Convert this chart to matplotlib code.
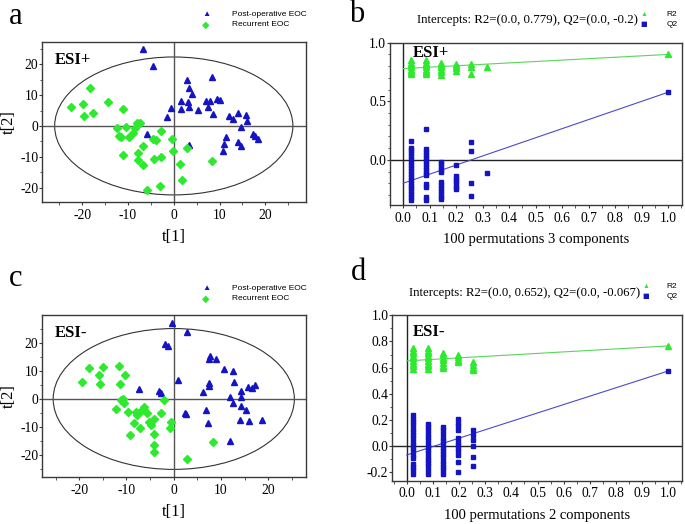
import matplotlib
matplotlib.use("Agg")
import matplotlib.pyplot as plt
from matplotlib.patches import Ellipse
from matplotlib.ticker import MultipleLocator, FormatStrFormatter

plt.rcParams['font.family'] = ['Liberation Serif', 'DejaVu Serif']
plt.rcParams['axes.unicode_minus'] = False

# ---- data: score plots (t[1], t[2]) ----
a_post_t1 = [-6.8, -4.5, 2.8, 3.4, 4.0, 8.4, 1.5, 3.0, -0.7, 1.5, 3.3, 5.2, 7.1, 7.9, 7.4, 8.6, 9.5,
             10.2, -1.5, 12.0, 12.9, 14.1, 15.7, 15.9, 14.6, -5.9, 3.3, 11.3, 10.9, 10.7, 14.0, 14.6,
             17.4, 17.7, 18.3]
a_post_t2 = [24.9, 19.4, 14.8, 12.3, 10.4, 15.9, 8.2, 7.8, 5.8, 5.5, 6.3, 5.1, 8.1, 8.0, 6.3, 4.0, 8.8,
             8.5, 2.8, 3.2, 2.2, 4.3, 3.4, 1.6, -0.3, -2.6, -6.3, -3.5, -5.9, -8.0, -5.1, -6.4,
             -2.5, -3.2, -4.3]
a_rec_t1 = [-22.4, -19.8, -18.3, -19.7, -17.6, -14.3, -11.1, -12.4, -10.4, -11.9, -11.6, -9.7, -8.8,
            -8.4, -8.0, -7.3, -11.1, -7.8, -6.8, -7.7, -6.8, -4.6, -3.9, -2.7, -0.4, -0.1, -4.3, -2.7,
            1.4, 2.8, 1.8, -3.0, -5.9, 8.4]
a_rec_t2 = [6.2, 7.1, 12.3, 3.1, 4.2, 7.8, 5.5, -0.8, -0.3, -3.4, -3.7, -3.7, -2.2, -0.6, 0.9, 0.9,
            -9.5, -8.8, -6.6, -11.0, -12.8, -4.3, -4.6, -1.8, -4.2, -8.1, -10.7, -10.2, -12.4, -7.0,
            -17.4, -19.4, -20.8, -11.2]

c_post_t1 = [-0.3, 2.7, -1.9, -1.3, 7.5, 7.6, 8.9, 10.6, 12.6, 12.7, 7.5, 7.5, 0.8, -7.4, -3.2, -2.7,
             6.2, 11.9, 12.5, 14.2, 15.8, 16.5, 17.2, 14.3, 14.2, 15.3, 14.1, 16.0, 18.7, 2.4, 2.6,
             6.9, 7.3, 11.8]
c_post_t2 = [27.0, 23.7, 19.6, 18.8, 14.3, 15.3, 14.3, 10.8, 9.8, 6.0, 5.8, 4.5, 6.6, 3.6, 2.7, 2.1,
             2.5, 0.6, -1.4, 2.8, 4.3, 3.9, 5.1, 0.7, -2.5, -4.0, -7.5, -7.9, -7.5, -4.9, -5.2,
             -3.8, -8.4, -14.8]
c_rec_t1 = [-19.4, -17.9, -15.8, -15.6, -14.9, -11.5, -10.3, -11.4, -11.2, -10.8, -10.6, -12.3, -9.6,
            -8.0, -7.7, -7.0, -6.3, -5.7, -4.2, -5.2, -4.9, -8.5, -7.1, -9.2, -4.1, -4.2, -4.2, -2.6,
            -2.1, -0.5, -0.8, 8.4, 2.7]
c_rec_t2 = [5.9, 11.0, 8.6, 5.3, 11.5, 11.6, 8.5, 5.4, -0.2, -0.1, -1.3, -3.6, -4.7, -4.7, -5.6, -4.1,
            -3.0, -4.9, -7.0, -8.3, -9.3, -8.4, -10.2, -12.9, -12.3, -16.2, -18.8, -4.9, -0.2, -8.2,
            -10.2, -15.3, -21.3]

# ---- data: permutation tests ----
b_perm_x = [0.029, 0.084, 0.142, 0.2, 0.254, 0.315]
b_r2_cols = [[0.85, 0.83, 0.81, 0.79, 0.77, 0.75, 0.735],
             [0.85, 0.83, 0.81, 0.79, 0.77, 0.75, 0.735],
             [0.83, 0.81, 0.79, 0.77, 0.75, 0.725],
             [0.82, 0.80, 0.78, 0.76],
             [0.815, 0.79, 0.73],
             [0.795]]
b_q2_cols = [[0.157, 0.105, 0.08, 0.055, 0.03, 0.005, -0.02, -0.045, -0.07, -0.095, -0.12, -0.145,
              -0.17, -0.195, -0.22, -0.245, -0.27, -0.295, -0.32, -0.34],
             [0.26, 0.09, 0.065, 0.04, 0.015, -0.01, -0.035, -0.06, -0.085, -0.11, -0.13, -0.205,
              -0.23, -0.32, -0.34],
             [-0.017, -0.04, -0.065, -0.09, -0.105, -0.19, -0.215, -0.24, -0.265, -0.29, -0.315, -0.337],
             [-0.045, -0.137, -0.16, -0.185, -0.21, -0.23, -0.25],
             [0.15, 0.074, -0.2, -0.31],
             [-0.11]]
b_r2_model, b_q2_model = 0.90, 0.577
b_r2_int, b_q2_int = 0.779, -0.2

d_perm_x = [0.025, 0.083, 0.137, 0.197, 0.255]
d_r2_cols = [[0.75, 0.73, 0.71, 0.69, 0.67, 0.65, 0.63, 0.61, 0.59],
             [0.75, 0.73, 0.71, 0.69, 0.67, 0.65, 0.63, 0.61, 0.59],
             [0.715, 0.695, 0.675, 0.655, 0.635, 0.615, 0.60],
             [0.70, 0.68, 0.66, 0.64],
             [0.64, 0.62, 0.60, 0.58]]
d_q2_cols = [[0.235, 0.21, 0.185, 0.16, 0.135, 0.11, 0.085, 0.06, 0.035, 0.01, -0.015, -0.04, -0.065,
              -0.09, -0.135, -0.16, -0.185, -0.21],
             [0.17, 0.145, 0.12, 0.095, 0.07, 0.045, 0.02, -0.005, -0.03, -0.055, -0.08, -0.105, -0.13,
              -0.155, -0.18, -0.21],
             [0.15, 0.125, 0.09, 0.065, 0.04, 0.015, -0.01, -0.035, -0.06, -0.085, -0.11, -0.135,
              -0.16, -0.185, -0.21],
             [0.205, 0.18, 0.155, 0.125, 0.06, 0.035, 0.01, -0.015, -0.04, -0.065, -0.12, -0.2],
             [0.127, 0.084, 0.046, 0.0, -0.08, -0.15]]
d_r2_model, d_q2_model = 0.766, 0.575
d_r2_int, d_q2_int = 0.652, -0.067

BLUE = '#1414c4'
GREEN = '#2eea2e'
SPINE = '#3a3a3a'

W, H = 685, 524
fig = plt.figure(figsize=(W / 100, H / 100), dpi=100)


def box(l, t, r, b):
    return [l / W, 1 - b / H, (r - l) / W, (b - t) / H]


def style(ax):
    for s in ax.spines.values():
        s.set_color(SPINE)
        s.set_linewidth(1.0)
    ax.tick_params(which='both', direction='out', top=False, right=False, color=SPINE,
                   labelsize=9.8)
    ax.tick_params(axis='x', which='both', pad=2.8)
    ax.tick_params(axis='y', which='both', pad=0.6)
    ax.tick_params(which='major', length=2.2)
    ax.tick_params(which='minor', length=1.8)


def score_plot(ax, pt1, pt2, rt1, rt2, xlim, ylim, ell, tag, tag_y):
    style(ax)
    ax.axhline(0, color='#555555', lw=1)
    ax.axvline(0, color='#555555', lw=1)
    ax.add_patch(Ellipse((0, 0), 2 * ell[0], 2 * ell[1], fill=False, ec='#333333', lw=0.8))
    ax.plot(pt1, pt2, '^', color=BLUE, ms=5, mec=BLUE, ls='none')
    ax.plot(rt1, rt2, 'D', color=GREEN, ms=4.3, mec=GREEN, ls='none')
    ax.set_xlim(*xlim)
    ax.set_ylim(*ylim)
    ax.xaxis.set_major_locator(MultipleLocator(10))
    ax.xaxis.set_minor_locator(MultipleLocator(5))
    ax.yaxis.set_major_locator(MultipleLocator(10))
    ax.yaxis.set_minor_locator(MultipleLocator(5))
    ax.set_xlabel('t[1]', fontsize=12, labelpad=5)
    ax.set_ylabel('t[2]', fontsize=12)
    ax.yaxis.set_label_coords(-0.097, 0.5)
    ax.text(0.048, tag_y, tag, transform=ax.transAxes, fontsize=12, fontweight='bold', va='center')


def perm_plot(ax, px, r2c, q2c, r2m, q2m, r2i, q2i, xlim, ylim, ymaj, tag, tag_x, tag_y, nc):
    style(ax)
    ax.axhline(0, color='#222222', lw=1)
    ax.axvline(0, color='#222222', lw=1)
    ax.plot([0, 1.0], [r2i, r2m], color='#5ad65a', lw=0.8)
    ax.plot([0, 1.0], [q2i, q2m], color='#4a4ac8', lw=0.8)
    for x, col in zip(px, r2c):
        ax.plot([x] * len(col), col, '^', color=GREEN, mec=GREEN, ms=4.5, ls='none')
    for x, col in zip(px, q2c):
        ax.plot([x] * len(col), col, 's', color=BLUE, mec=BLUE, ms=3.2, ls='none')
    ax.plot([1.0], [r2m], '^', color=GREEN, mec=GREEN, ms=4.5)
    ax.plot([1.0], [q2m], 's', color=BLUE, mec=BLUE, ms=3.5)
    ax.set_xlim(*xlim)
    ax.set_ylim(*ylim)
    ax.xaxis.set_major_locator(MultipleLocator(0.1))
    ax.xaxis.set_minor_locator(MultipleLocator(0.05))
    ax.yaxis.set_major_locator(MultipleLocator(ymaj))
    ax.yaxis.set_minor_locator(MultipleLocator(0.1))
    ax.xaxis.set_major_formatter(FormatStrFormatter('%.1f'))
    ax.yaxis.set_major_formatter(FormatStrFormatter('%.1f'))
    ax.set_xlabel('100 permutations %d components' % nc, fontsize=10.5, labelpad=6)
    ax.text(tag_x, tag_y, tag, transform=ax.transAxes, fontsize=12, fontweight='bold', va='center')


# panel a
ax_a = fig.add_axes(box(42.3, 41.7, 305.7, 201.7))
score_plot(ax_a, a_post_t1, a_post_t2, a_rec_t1, a_rec_t2, (-28.7, 28.8), (-24.55, 27.3),
           (26.0, 22.35), 'ESI+', 0.886)

# panel b
ax_b = fig.add_axes(box(390.0, 42.7, 681.7, 205.0))
perm_plot(ax_b, b_perm_x, b_r2_cols, b_q2_cols, b_r2_model, b_q2_model, b_r2_int, b_q2_int,
          (-0.050, 1.051), (-0.386, 1.0), 0.5, 'ESI+', 0.079, 0.935, 3)

# panel c
ax_c = fig.add_axes(box(42.3, 315.3, 305.7, 477.0))
score_plot(ax_c, c_post_t1, c_post_t2, c_rec_t1, c_rec_t2, (-27.8, 27.9), (-27.7, 29.7),
           (25.5, 25.0), 'ESI-', 0.89)

# panel d
ax_d = fig.add_axes(box(392.3, 315.3, 681.7, 480.5))
perm_plot(ax_d, d_perm_x, d_r2_cols, d_q2_cols, d_r2_model, d_q2_model, d_r2_int, d_q2_int,
          (-0.055, 1.051), (-0.262, 1.0), 0.2, 'ESI-', 0.072, 0.9, 2)


def px(x, y):
    return x / W, 1 - y / H


# panel letters
for letter, (x, y) in zip('abcd', [(16, 16), (357, 15), (16, 278), (358, 273)]):
    fig.text(*px(x, y), letter, fontsize=22, ha='center', va='center')

# score plot legends
sans = ['Liberation Sans', 'DejaVu Sans']
for y0 in (15, 289):
    fig.text(*px(206, y0), '\u25B2', color=BLUE, fontsize=6, ha='center', va='center', family=sans)
    fig.text(*px(206, y0 + 10), '\u25C6', color=GREEN, fontsize=7, ha='center', va='center',
             family=['DejaVu Sans'])
    fig.text(*px(232, y0), 'Post-operative EOC', fontsize=6.0, va='center', family=sans)
    fig.text(*px(232, y0 + 10), 'Recurrent EOC', fontsize=6.0, va='center', family=sans)

# permutation legends
fig.text(*px(417, 20), 'Intercepts: R2=(0.0, 0.779), Q2=(0.0, -0.2)', fontsize=9.3, va='center')
fig.text(*px(409, 293), 'Intercepts: R2=(0.0, 0.652), Q2=(0.0, -0.067)', fontsize=9.2, va='center')
for y_r, y_q, xm in ((15, 24, 644), (287, 296, 646)):
    fig.text(*px(xm, y_r), '\u25B2', color=GREEN, fontsize=5, ha='center', va='center', family=sans)
    fig.text(*px(xm, y_q), '\u25A0', color=BLUE, fontsize=5, ha='center', va='center',
             family=['DejaVu Sans'])
    fig.text(*px(672, y_r), 'R2', fontsize=6, ha='center', va='center', family=sans)
    fig.text(*px(672, y_q), 'Q2', fontsize=6, ha='center', va='center', family=sans)

fig.savefig('out.png', dpi=100)
